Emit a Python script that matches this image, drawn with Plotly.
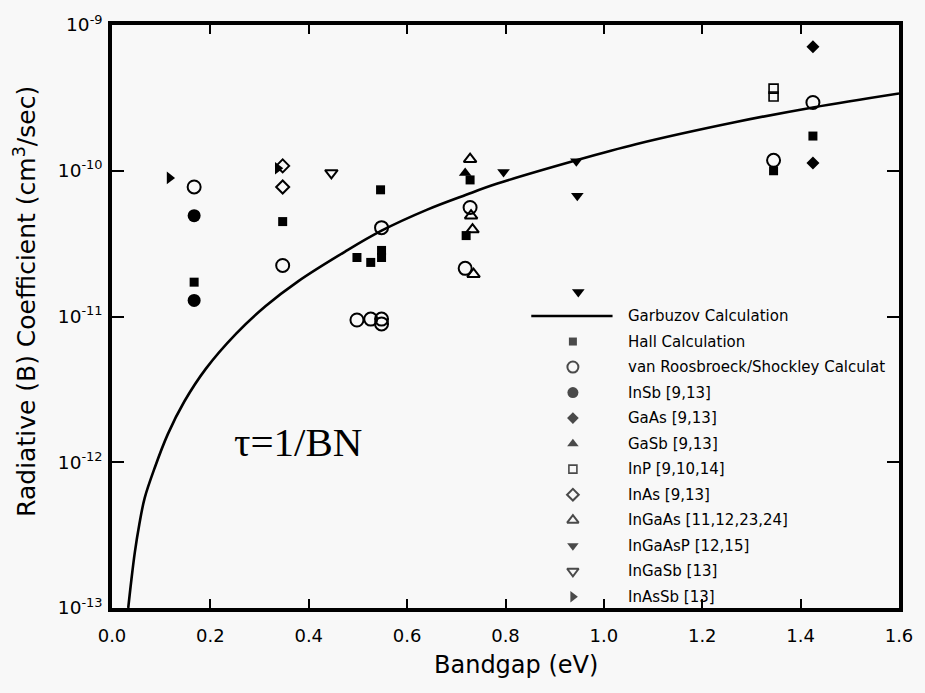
import plotly.graph_objects as go

# ---------------- data ----------------
garbuzov_x = [0.033, 0.0393, 0.0464, 0.0554, 0.0665, 0.0867, 0.1135, 0.147, 0.191, 0.252, 0.3125,
              0.379, 0.474, 0.548, 0.641, 0.720, 0.782, 0.944, 1.065, 1.266, 1.425, 1.60]
garbuzov_y = [1.0e-13, 1.55e-13, 2.41e-13, 3.73e-13, 5.70e-13, 9.14e-13, 1.56e-12, 2.61e-12, 4.39e-12,
              7.60e-12, 1.18e-11, 1.75e-11, 2.79e-11, 3.88e-11, 5.41e-11, 6.84e-11, 8.13e-11,
              1.18e-10, 1.52e-10, 2.15e-10, 2.72e-10, 3.39e-10]

hall_x = [0.167, 0.347, 0.546, 0.498, 0.526, 0.548, 0.548, 0.720, 0.728, 1.345, 1.425]
hall_y = [1.72e-11, 4.48e-11, 7.4e-11, 2.54e-11, 2.35e-11, 2.84e-11, 2.54e-11, 3.59e-11, 8.65e-11, 1.0e-10, 1.73e-10]

vrs_x = [0.167, 0.347, 0.548, 0.498, 0.526, 0.548, 0.548, 0.728, 0.718, 1.345, 1.425]
vrs_y = [7.74e-11, 2.24e-11, 4.07e-11, 9.46e-12, 9.6e-12, 9.6e-12, 8.9e-12, 5.6e-11, 2.14e-11, 1.18e-10, 2.94e-10]

insb_x = [0.167, 0.167]
insb_y = [4.92e-11, 1.29e-11]

gaas_x = [1.425, 1.425]
gaas_y = [7.08e-10, 1.13e-10]

gasb_x = [0.718]
gasb_y = [9.66e-11]

inp_x = [1.345, 1.345]
inp_y = [3.66e-10, 3.23e-10]

inas_x = [0.347, 0.347]
inas_y = [1.08e-10, 7.74e-11]

ingaas_x = [0.728, 0.730, 0.733, 0.735]
ingaas_y = [1.2e-10, 4.92e-11, 3.95e-11, 1.95e-11]

ingaasp_x = [0.796, 0.944, 0.946, 0.948]
ingaasp_y = [9.8e-11, 1.16e-10, 6.73e-11, 1.47e-11]

ingasb_x = [0.446]
ingasb_y = [9.66e-11]

inassb_x = [0.117, 0.337]
inassb_y = [8.93e-11, 1.04e-10]

legend_labels = ["Garbuzov Calculation", "Hall Calculation", "van Roosbroeck/Shockley Calculat",
                 "InSb [9,13]", "GaAs [9,13]", "GaSb [9,13]", "InP [9,10,14]", "InAs [9,13]",
                 "InGaAs [11,12,23,24]", "InGaAsP [12,15]", "InGaSb [13]", "InAsSb [13]"]

x_ticks = [0.0, 0.2, 0.4, 0.6, 0.8, 1.0, 1.2, 1.4, 1.6]
y_ticks = [1e-13, 1e-12, 1e-11, 1e-10, 1e-9]
y_ticktext = ["10<sup>-13</sup>", "10<sup>-12</sup>", "10<sup>-11</sup>", "10<sup>-10</sup>", "10<sup>-9</sup>"]

x_title = "Bandgap (eV)"
y_title = "Radiative (B) Coefficient (cm<sup>3</sup>/sec)"
formula_text = "τ=1/BN"

# ---------------- styles ----------------
FONT = "DejaVu Sans"
INK = "black"
BG = "#f8f8f8"

series = [
    (hall_x, hall_y, "square", 9, 0),
    (vrs_x, vrs_y, "circle-open", 13, 2),
    (insb_x, insb_y, "circle", 13, 0),
    (gaas_x, gaas_y, "diamond", 10, 0),
    (gasb_x, gasb_y, "triangle-up", 11, 0),
    (inp_x, inp_y, "square-open", 9, 1.6),
    (inas_x, inas_y, "diamond-open", 10, 2),
    (ingaas_x, ingaas_y, "triangle-up-open", 11, 2),
    (ingaasp_x, ingaasp_y, "triangle-down", 11, 0),
    (ingasb_x, ingasb_y, "triangle-down-open", 11, 2),
    (inassb_x, inassb_y, "triangle-right", 11, 0),
]

fig = go.Figure()

fig.add_trace(go.Scatter(x=garbuzov_x, y=garbuzov_y, mode="lines",
                         line=dict(color=INK, width=2.6, shape="spline", smoothing=1.0),
                         showlegend=False, hoverinfo="skip"))

for xs, ys, sym, size, lw in series:
    fig.add_trace(go.Scatter(x=xs, y=ys, mode="markers", showlegend=False,
                             marker=dict(symbol=sym, size=size, color=INK,
                                         line=dict(color=INK, width=lw))))

# ---------------- hand-built legend (keys on a hidden 0..1 overlay axis) ----------------
W, H = 925, 693
ML, MR, MT, MB = 112, 19, 21, 85
PW, PH = W - ML - MR, H - MT - MB

def fx(px):
    return (px - ML) / PW

def fy(py):
    return (H - MB - py) / PH

row0, step = 314, 25.7
rows = [row0 + step * i for i in range(len(legend_labels))]
key_x = fx(577)
text_x = fx(631)

key_sizes = [8, 11, 11, 9, 10, 8, 9, 10, 10, 10, 10]
key_lw = [0, 2, 0, 0, 0, 1.6, 2, 2, 0, 2, 0]
fig.add_trace(go.Scatter(
    x=[key_x] * len(series), y=[fy(r) for r in rows[1:]],
    xaxis="x2", yaxis="y2", mode="markers", showlegend=False, hoverinfo="skip",
    marker=dict(symbol=[s[2] for s in series], size=key_sizes, color=INK,
                line=dict(color=INK, width=key_lw))))

fig.add_shape(type="line", xref="paper", yref="paper",
              x0=fx(535), x1=fx(617), y0=fy(rows[0]), y1=fy(rows[0]),
              line=dict(color=INK, width=2.6))

for lab, r in zip(legend_labels, rows):
    fig.add_annotation(x=text_x, y=fy(r), xref="paper", yref="paper", text=lab,
                       showarrow=False, xanchor="left", yanchor="middle",
                       font=dict(family=FONT, size=15, color=INK))

fig.add_annotation(x=fx(233), y=fy(441), xref="paper", yref="paper", text=formula_text,
                   showarrow=False, xanchor="left", yanchor="middle",
                   font=dict(family="Liberation Serif, Times New Roman, serif", size=41, color=INK))

# axis titles placed as annotations for exact positioning
fig.add_annotation(x=fx(520), y=fy(665), xref="paper", yref="paper", text=x_title,
                   showarrow=False, xanchor="center", yanchor="middle",
                   font=dict(family=FONT, size=24, color=INK))
fig.add_annotation(x=fx(24), y=fy(299), xref="paper", yref="paper", text=y_title,
                   showarrow=False, xanchor="center", yanchor="middle", textangle=-90,
                   font=dict(family=FONT, size=25, color=INK))

fig.update_layout(
    width=W, height=H,
    margin=dict(l=ML, r=MR, t=MT, b=MB, pad=0),
    paper_bgcolor=BG, plot_bgcolor=BG,
    font=dict(family=FONT, color=INK),
    xaxis=dict(range=[0, 1.6], tickvals=x_ticks, tickformat=".1f",
               showline=True, linewidth=3.5, linecolor=INK, mirror="ticks",
               ticks="inside", ticklen=9, tickwidth=2, tickcolor=INK,
               showgrid=False, zeroline=False, ticklabelstandoff=9,
               tickfont=dict(family=FONT, size=18)),
    yaxis=dict(type="log", range=[-13, -9], tickvals=y_ticks, ticktext=y_ticktext,
               showline=True, linewidth=3.5, linecolor=INK, mirror="ticks",
               ticks="inside", ticklen=12, tickwidth=2, tickcolor=INK,
               showgrid=False, zeroline=False, ticklabelstandoff=2,
               tickfont=dict(family=FONT, size=18.5)),
    xaxis2=dict(overlaying="x", range=[0, 1], visible=False, fixedrange=True),
    yaxis2=dict(overlaying="y", range=[0, 1], visible=False, fixedrange=True),
    showlegend=False,
)

fig.write_html("out.html", config={"displayModeBar": False},
               post_script="document.body.style.margin='0';")
